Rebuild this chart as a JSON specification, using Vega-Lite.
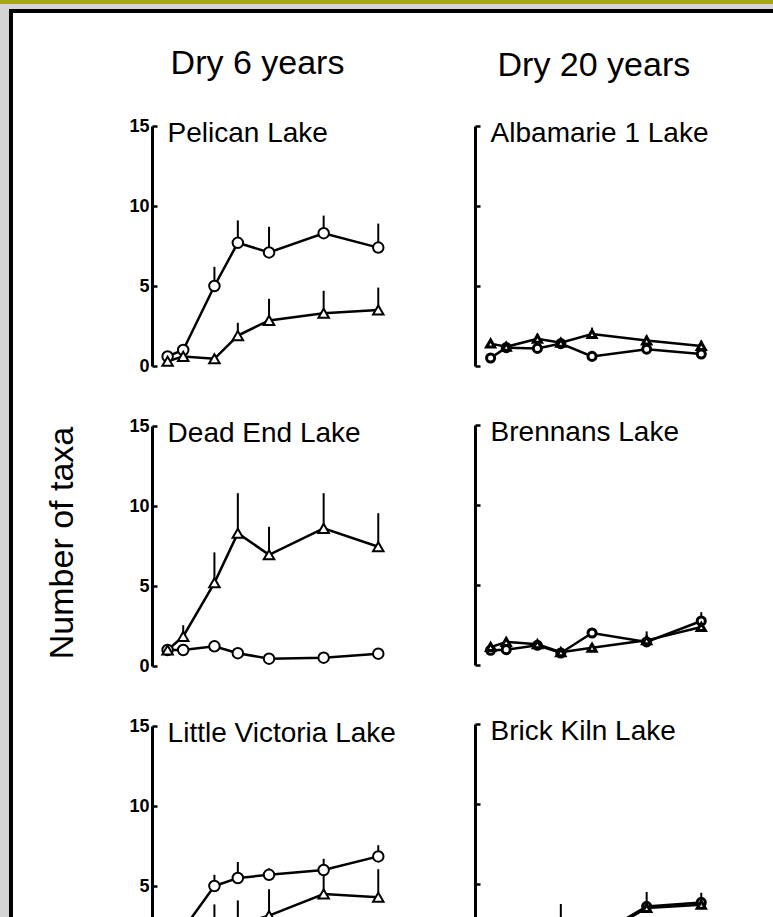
{
  "$schema": "https://vega.github.io/schema/vega-lite/v6.json",
  "background": "white",
  "padding": 0,
  "config": {
    "view": {"stroke": null},
    "font": "Liberation Sans",
    "axis": {
      "grid": false,
      "domainColor": "black",
      "domainWidth": 3,
      "tickColor": "black",
      "tickWidth": 2.5,
      "tickSize": -5,
      "labelColor": "black",
      "labelFont": "Liberation Sans",
      "labelFontWeight": "bold",
      "labelFontSize": 18,
      "labelPadding": 8
    },
    "title": {"font": "Liberation Sans", "fontSize": 34, "fontWeight": "normal", "color": "black", "anchor": "middle"}
  },
  "data": {
    "values": [
      {"dry": 6, "row": 1, "lake": "Pelican Lake", "s": "circle", "t": 1, "m": 0.6},
      {"dry": 6, "row": 1, "lake": "Pelican Lake", "s": "circle", "t": 2, "m": 1.0},
      {"dry": 6, "row": 1, "lake": "Pelican Lake", "s": "circle", "t": 4, "m": 5.0, "hi": 6.2},
      {"dry": 6, "row": 1, "lake": "Pelican Lake", "s": "circle", "t": 5.5, "m": 7.7, "hi": 9.1},
      {"dry": 6, "row": 1, "lake": "Pelican Lake", "s": "circle", "t": 7.5, "m": 7.1, "hi": 8.7},
      {"dry": 6, "row": 1, "lake": "Pelican Lake", "s": "circle", "t": 11, "m": 8.3, "hi": 9.4},
      {"dry": 6, "row": 1, "lake": "Pelican Lake", "s": "circle", "t": 14.5, "m": 7.4, "hi": 8.9},
      {"dry": 6, "row": 1, "lake": "Pelican Lake", "s": "triangle", "t": 1, "m": 0.3},
      {"dry": 6, "row": 1, "lake": "Pelican Lake", "s": "triangle", "t": 2, "m": 0.6},
      {"dry": 6, "row": 1, "lake": "Pelican Lake", "s": "triangle", "t": 4, "m": 0.45},
      {"dry": 6, "row": 1, "lake": "Pelican Lake", "s": "triangle", "t": 5.5, "m": 1.9, "hi": 2.7},
      {"dry": 6, "row": 1, "lake": "Pelican Lake", "s": "triangle", "t": 7.5, "m": 2.85, "hi": 4.2},
      {"dry": 6, "row": 1, "lake": "Pelican Lake", "s": "triangle", "t": 11, "m": 3.3, "hi": 4.7},
      {"dry": 6, "row": 1, "lake": "Pelican Lake", "s": "triangle", "t": 14.5, "m": 3.5, "hi": 4.9},

      {"dry": 6, "row": 2, "lake": "Dead End Lake", "s": "circle", "t": 1, "m": 1.0},
      {"dry": 6, "row": 2, "lake": "Dead End Lake", "s": "circle", "t": 2, "m": 1.0},
      {"dry": 6, "row": 2, "lake": "Dead End Lake", "s": "circle", "t": 4, "m": 1.23},
      {"dry": 6, "row": 2, "lake": "Dead End Lake", "s": "circle", "t": 5.5, "m": 0.8},
      {"dry": 6, "row": 2, "lake": "Dead End Lake", "s": "circle", "t": 7.5, "m": 0.46},
      {"dry": 6, "row": 2, "lake": "Dead End Lake", "s": "circle", "t": 11, "m": 0.52},
      {"dry": 6, "row": 2, "lake": "Dead End Lake", "s": "circle", "t": 14.5, "m": 0.77},
      {"dry": 6, "row": 2, "lake": "Dead End Lake", "s": "triangle", "t": 1, "m": 1.0},
      {"dry": 6, "row": 2, "lake": "Dead End Lake", "s": "triangle", "t": 2, "m": 1.85, "hi": 2.55},
      {"dry": 6, "row": 2, "lake": "Dead End Lake", "s": "triangle", "t": 4, "m": 5.2, "hi": 7.1},
      {"dry": 6, "row": 2, "lake": "Dead End Lake", "s": "triangle", "t": 5.5, "m": 8.3, "hi": 10.8},
      {"dry": 6, "row": 2, "lake": "Dead End Lake", "s": "triangle", "t": 7.5, "m": 6.95, "hi": 8.7},
      {"dry": 6, "row": 2, "lake": "Dead End Lake", "s": "triangle", "t": 11, "m": 8.6, "hi": 10.8},
      {"dry": 6, "row": 2, "lake": "Dead End Lake", "s": "triangle", "t": 14.5, "m": 7.45, "hi": 9.55},

      {"dry": 6, "row": 3, "lake": "Little Victoria Lake", "s": "circle", "t": 1, "m": 1.0},
      {"dry": 6, "row": 3, "lake": "Little Victoria Lake", "s": "circle", "t": 2, "m": 2.3},
      {"dry": 6, "row": 3, "lake": "Little Victoria Lake", "s": "circle", "t": 4, "m": 5.0, "hi": 5.7},
      {"dry": 6, "row": 3, "lake": "Little Victoria Lake", "s": "circle", "t": 5.5, "m": 5.5, "hi": 6.5},
      {"dry": 6, "row": 3, "lake": "Little Victoria Lake", "s": "circle", "t": 7.5, "m": 5.7, "hi": 6.1},
      {"dry": 6, "row": 3, "lake": "Little Victoria Lake", "s": "circle", "t": 11, "m": 6.0, "hi": 6.7},
      {"dry": 6, "row": 3, "lake": "Little Victoria Lake", "s": "circle", "t": 14.5, "m": 6.85, "hi": 7.55},
      {"dry": 6, "row": 3, "lake": "Little Victoria Lake", "s": "triangle", "t": 1, "m": 0.5},
      {"dry": 6, "row": 3, "lake": "Little Victoria Lake", "s": "triangle", "t": 2, "m": 1.3},
      {"dry": 6, "row": 3, "lake": "Little Victoria Lake", "s": "triangle", "t": 4, "m": 2.3, "hi": 3.85},
      {"dry": 6, "row": 3, "lake": "Little Victoria Lake", "s": "triangle", "t": 5.5, "m": 2.6, "hi": 4.1},
      {"dry": 6, "row": 3, "lake": "Little Victoria Lake", "s": "triangle", "t": 7.5, "m": 3.15, "hi": 4.8},
      {"dry": 6, "row": 3, "lake": "Little Victoria Lake", "s": "triangle", "t": 11, "m": 4.5, "hi": 6.0},
      {"dry": 6, "row": 3, "lake": "Little Victoria Lake", "s": "triangle", "t": 14.5, "m": 4.3, "hi": 6.05},

      {"dry": 20, "row": 1, "lake": "Albamarie 1 Lake", "s": "circle", "t": 1, "m": 0.5},
      {"dry": 20, "row": 1, "lake": "Albamarie 1 Lake", "s": "circle", "t": 2, "m": 1.15},
      {"dry": 20, "row": 1, "lake": "Albamarie 1 Lake", "s": "circle", "t": 4, "m": 1.1},
      {"dry": 20, "row": 1, "lake": "Albamarie 1 Lake", "s": "circle", "t": 5.5, "m": 1.4},
      {"dry": 20, "row": 1, "lake": "Albamarie 1 Lake", "s": "circle", "t": 7.5, "m": 0.6},
      {"dry": 20, "row": 1, "lake": "Albamarie 1 Lake", "s": "circle", "t": 11, "m": 1.05},
      {"dry": 20, "row": 1, "lake": "Albamarie 1 Lake", "s": "circle", "t": 14.5, "m": 0.75},
      {"dry": 20, "row": 1, "lake": "Albamarie 1 Lake", "s": "triangle", "t": 1, "m": 1.4},
      {"dry": 20, "row": 1, "lake": "Albamarie 1 Lake", "s": "triangle", "t": 2, "m": 1.2},
      {"dry": 20, "row": 1, "lake": "Albamarie 1 Lake", "s": "triangle", "t": 4, "m": 1.7, "hi": 2.0},
      {"dry": 20, "row": 1, "lake": "Albamarie 1 Lake", "s": "triangle", "t": 5.5, "m": 1.45},
      {"dry": 20, "row": 1, "lake": "Albamarie 1 Lake", "s": "triangle", "t": 7.5, "m": 2.0, "hi": 2.4},
      {"dry": 20, "row": 1, "lake": "Albamarie 1 Lake", "s": "triangle", "t": 11, "m": 1.6, "hi": 1.9},
      {"dry": 20, "row": 1, "lake": "Albamarie 1 Lake", "s": "triangle", "t": 14.5, "m": 1.25, "hi": 1.6},

      {"dry": 20, "row": 2, "lake": "Brennans Lake", "s": "circle", "t": 1, "m": 0.92},
      {"dry": 20, "row": 2, "lake": "Brennans Lake", "s": "circle", "t": 2, "m": 0.96},
      {"dry": 20, "row": 2, "lake": "Brennans Lake", "s": "circle", "t": 4, "m": 1.23},
      {"dry": 20, "row": 2, "lake": "Brennans Lake", "s": "circle", "t": 5.5, "m": 0.75},
      {"dry": 20, "row": 2, "lake": "Brennans Lake", "s": "circle", "t": 7.5, "m": 2.0},
      {"dry": 20, "row": 2, "lake": "Brennans Lake", "s": "circle", "t": 11, "m": 1.44},
      {"dry": 20, "row": 2, "lake": "Brennans Lake", "s": "circle", "t": 14.5, "m": 2.75, "hi": 3.3},
      {"dry": 20, "row": 2, "lake": "Brennans Lake", "s": "triangle", "t": 1, "m": 1.12},
      {"dry": 20, "row": 2, "lake": "Brennans Lake", "s": "triangle", "t": 2, "m": 1.44},
      {"dry": 20, "row": 2, "lake": "Brennans Lake", "s": "triangle", "t": 4, "m": 1.3},
      {"dry": 20, "row": 2, "lake": "Brennans Lake", "s": "triangle", "t": 5.5, "m": 0.8},
      {"dry": 20, "row": 2, "lake": "Brennans Lake", "s": "triangle", "t": 7.5, "m": 1.08},
      {"dry": 20, "row": 2, "lake": "Brennans Lake", "s": "triangle", "t": 11, "m": 1.54, "hi": 2.1},
      {"dry": 20, "row": 2, "lake": "Brennans Lake", "s": "triangle", "t": 14.5, "m": 2.37},

      {"dry": 20, "row": 3, "lake": "Brick Kiln Lake", "s": "circle", "t": 1, "m": 1.0},
      {"dry": 20, "row": 3, "lake": "Brick Kiln Lake", "s": "circle", "t": 2, "m": 1.3},
      {"dry": 20, "row": 3, "lake": "Brick Kiln Lake", "s": "circle", "t": 4, "m": 1.5},
      {"dry": 20, "row": 3, "lake": "Brick Kiln Lake", "s": "circle", "t": 5.5, "m": 2.4, "hi": 3.75},
      {"dry": 20, "row": 3, "lake": "Brick Kiln Lake", "s": "circle", "t": 7.5, "m": 1.6},
      {"dry": 20, "row": 3, "lake": "Brick Kiln Lake", "s": "circle", "t": 11, "m": 3.6, "hi": 4.5},
      {"dry": 20, "row": 3, "lake": "Brick Kiln Lake", "s": "circle", "t": 14.5, "m": 3.85, "hi": 4.45},
      {"dry": 20, "row": 3, "lake": "Brick Kiln Lake", "s": "triangle", "t": 1, "m": 1.2},
      {"dry": 20, "row": 3, "lake": "Brick Kiln Lake", "s": "triangle", "t": 2, "m": 1.1},
      {"dry": 20, "row": 3, "lake": "Brick Kiln Lake", "s": "triangle", "t": 4, "m": 1.4},
      {"dry": 20, "row": 3, "lake": "Brick Kiln Lake", "s": "triangle", "t": 5.5, "m": 2.0},
      {"dry": 20, "row": 3, "lake": "Brick Kiln Lake", "s": "triangle", "t": 7.5, "m": 1.5},
      {"dry": 20, "row": 3, "lake": "Brick Kiln Lake", "s": "triangle", "t": 11, "m": 3.5},
      {"dry": 20, "row": 3, "lake": "Brick Kiln Lake", "s": "triangle", "t": 14.5, "m": 3.7}
    ]
  },
  "spacing": 0,
  "vconcat": [
    {"width": 773, "height": 4, "view": {"fill": "#a6a612", "stroke": null}, "transform": [{"filter": "false"}], "mark": "point"},
    {
      "spacing": 0,
      "hconcat": [
        {"width": 9, "height": 913, "view": {"fill": "#d4d4d4", "stroke": null}, "transform": [{"filter": "false"}], "mark": "point"},
        {
          "spacing": 0,
          "vconcat": [
            {"width": 764, "height": 5, "view": {"fill": "#d4d4d4", "stroke": null}, "transform": [{"filter": "false"}], "mark": "point"},
            {
              "spacing": 0,
              "hconcat": [
                {"width": 4, "height": 908, "view": {"fill": "black", "stroke": null}, "transform": [{"filter": "false"}], "mark": "point"},
                {
                  "spacing": 34,
                  "vconcat": [
                    {"width": 760, "height": 4, "view": {"fill": "black", "stroke": null}, "transform": [{"filter": "false"}], "mark": "point"},
                    {
                      "spacing": 31,
                      "hconcat": [
                        {"width": 1, "height": 1, "view": {"stroke": null}, "transform": [{"filter": "false"}], "mark": "point"},
                        {
                          "spacing": 76,
                          "hconcat": [
                            {
                              "title": {"text": "Dry 6 years", "offset": 36, "dx": 36},
                              "transform": [{"filter": "datum.dry == 6"}],
                              "facet": {
                                "row": {
                                  "field": "row", "type": "ordinal",
                                  "header": {"labels": false, "title": "Number of taxa", "titleOrient": "left", "titleFont": "Liberation Sans", "titleFontSize": 34, "titleFontWeight": "normal", "titleColor": "black", "titlePadding": 38}
                                }
                              },
                              "spacing": {"row": 50},
                              "spec": {
                                "width": 245,
                                "height": 240,
                                "encoding": {
                                  "x": {"field": "t", "type": "quantitative", "scale": {"domain": [0, 15.7], "nice": false, "zero": false}, "axis": {"title": null, "ticks": false, "labels": false}},
                                  "y": {"field": "m", "type": "quantitative", "scale": {"domain": [0, 15], "nice": false}, "axis": {"title": null, "values": [0, 5, 10, 15]}}
                                },
                                "layer": [
                                  {"mark": {"type": "line", "color": "black", "strokeWidth": 2.5}, "encoding": {"detail": {"field": "s"}}},
                                  {"transform": [{"filter": "isValid(datum.hi)"}], "mark": {"type": "rule", "color": "black", "strokeWidth": 2}, "encoding": {"y2": {"field": "hi"}}},
                                  {"mark": {"type": "point", "filled": true, "fill": "white", "stroke": "black", "strokeWidth": 2, "size": 110, "opacity": 1},
                                   "encoding": {"shape": {"field": "s", "type": "nominal", "scale": {"domain": ["circle", "triangle"], "range": ["circle", "triangle-up"]}, "legend": null}}},
                                  {"transform": [{"filter": "datum.t == 1 && datum.s == 'circle'"}],
                                   "mark": {"type": "text", "align": "left", "baseline": "alphabetic", "fontSize": 28, "font": "Liberation Sans", "color": "black", "dy": 16},
                                   "encoding": {"x": {"datum": 1.0}, "y": {"datum": 15}, "text": {"field": "lake"}}}
                                ]
                              }
                            },
                            {
                              "title": {"text": "Dry 20 years", "offset": 37, "dx": -3},
                              "transform": [{"filter": "datum.dry == 20"}],
                              "facet": {
                                "row": {"field": "row", "type": "ordinal", "header": {"labels": false, "title": null}}
                              },
                              "spacing": {"row": 50},
                              "spec": {
                                "width": 245,
                                "height": 240,
                                "encoding": {
                                  "x": {"field": "t", "type": "quantitative", "scale": {"domain": [0, 15.7], "nice": false, "zero": false}, "axis": {"title": null, "ticks": false, "labels": false}},
                                  "y": {"field": "m", "type": "quantitative", "scale": {"domain": [0, 15], "nice": false}, "axis": {"title": null, "values": [0, 5, 10, 15], "labels": false}}
                                },
                                "layer": [
                                  {"mark": {"type": "line", "color": "black", "strokeWidth": 2.5}, "encoding": {"detail": {"field": "s"}}},
                                  {"transform": [{"filter": "isValid(datum.hi)"}], "mark": {"type": "rule", "color": "black", "strokeWidth": 2}, "encoding": {"y2": {"field": "hi"}}},
                                  {"mark": {"type": "point", "filled": true, "fill": "white", "stroke": "black", "strokeWidth": 3, "size": 65, "opacity": 1},
                                   "encoding": {"shape": {"field": "s", "type": "nominal", "scale": {"domain": ["circle", "triangle"], "range": ["circle", "triangle-up"]}, "legend": null}}},
                                  {"transform": [{"filter": "datum.t == 1 && datum.s == 'circle'"}],
                                   "mark": {"type": "text", "align": "left", "baseline": "alphabetic", "fontSize": 28, "font": "Liberation Sans", "color": "black", "dy": 16},
                                   "encoding": {"x": {"datum": 1.0}, "y": {"datum": 15}, "text": {"field": "lake"}}}
                                ]
                              }
                            }
                          ]
                        }
                      ]
                    }
                  ]
                }
              ]
            }
          ]
        }
      ]
    }
  ]
}
